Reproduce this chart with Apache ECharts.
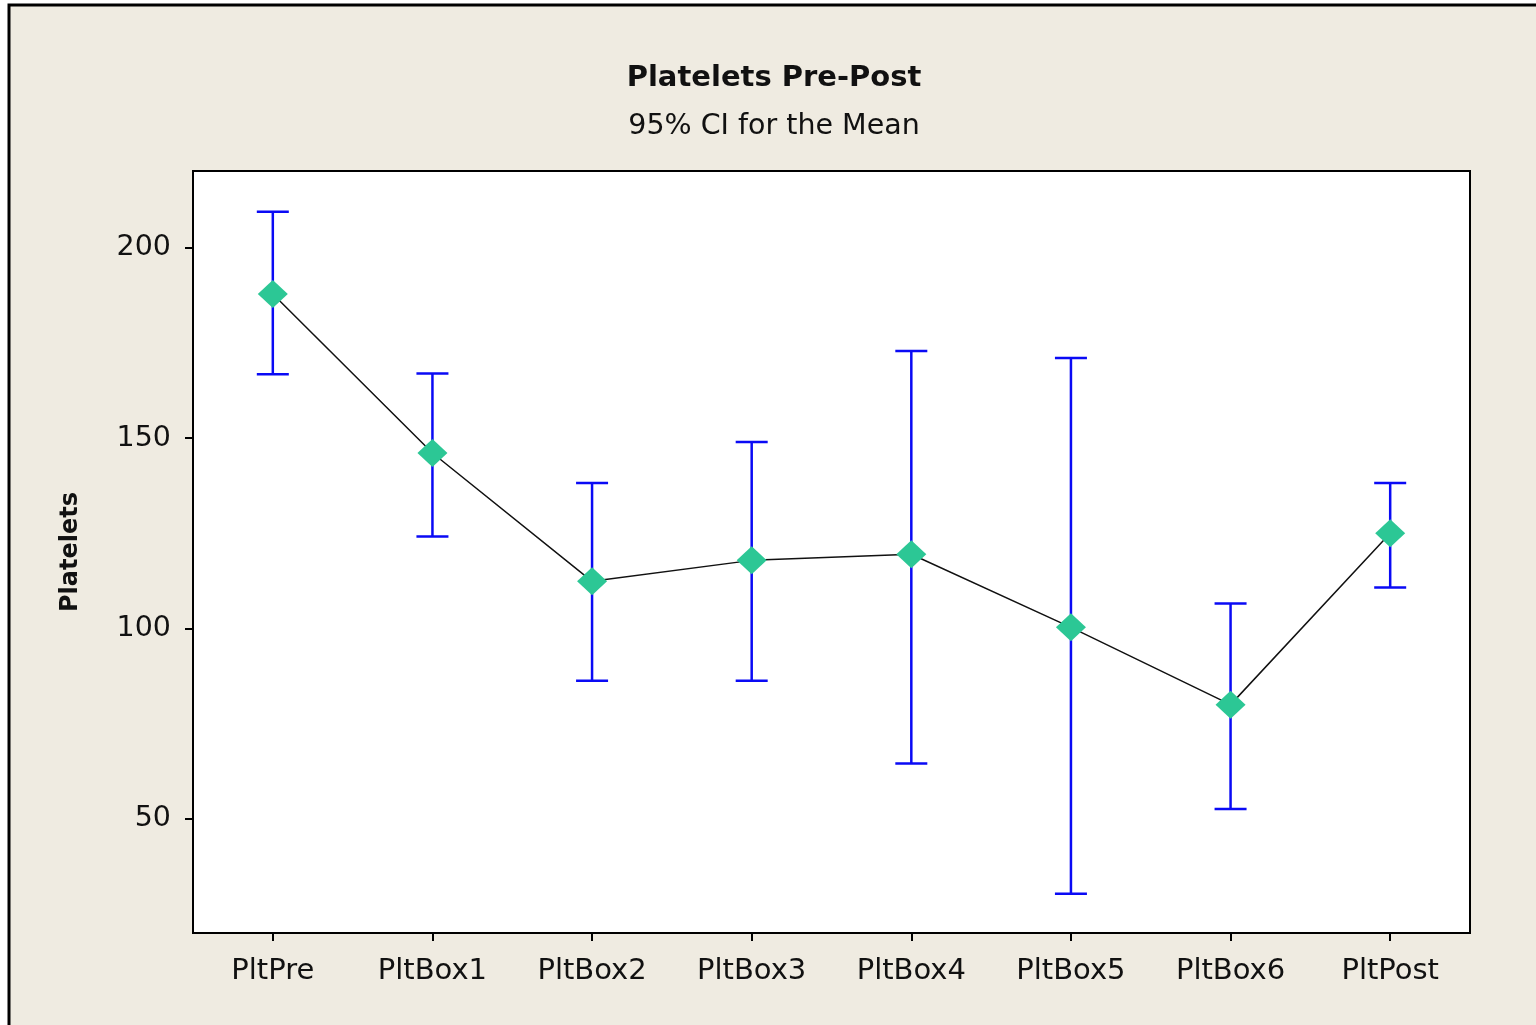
<!DOCTYPE html>
<html>
<head>
<meta charset="utf-8">
<script src="https://cdn.jsdelivr.net/npm/echarts@6/dist/echarts.min.js"></script>
<style>
  html, body { margin: 0; padding: 0; background: #ffffff; }
  #chart { width: 1536px; height: 1025px; }
</style>
</head>
<body>
<div id="chart"></div>
<script>
// Platelet counts by sample point: mean with 95% confidence interval
const categories = ['PltPre', 'PltBox1', 'PltBox2', 'PltBox3', 'PltBox4', 'PltBox5', 'PltBox6', 'PltPost'];
const means = [187.9, 146.1, 112.4, 117.9, 119.5, 100.3, 80.0, 125.0];
const ciUpper = [209.5, 167.0, 138.2, 149.0, 172.9, 171.1, 106.6, 138.2];
const ciLower = [166.8, 124.2, 86.3, 86.3, 64.5, 30.3, 52.6, 110.8];
const yTicks = [50, 100, 150, 200];

const intervalData = categories.map((c, i) => [i, ciLower[i], ciUpper[i]]);

const chart = echarts.init(document.getElementById('chart'), null, { renderer: 'canvas' });

const font = 'DejaVu Sans';
const CAP = 16;

chart.setOption({
  backgroundColor: '#ffffff',
  animation: false,
  graphic: [{
    type: 'rect',
    z: -10,
    silent: true,
    shape: { x: 9, y: 5, width: 1600, height: 1100 },
    style: { fill: '#efebe1', stroke: '#000000', lineWidth: 3 }
  }],
  title: {
    text: 'Platelets Pre-Post',
    subtext: '95% CI for the Mean',
    left: 769,
    textAlign: 'center',
    top: 59,
    itemGap: 19,
    textStyle: { fontFamily: font, fontWeight: 'bold', fontSize: 29, color: '#111111' },
    subtextStyle: { fontFamily: font, fontSize: 28.5, color: '#111111' }
  },
  grid: {
    left: 193, right: 66, top: 171, bottom: 92,
    show: true, backgroundColor: '#ffffff',
    borderColor: '#000000', borderWidth: 2
  },
  xAxis: {
    type: 'category',
    data: categories,
    boundaryGap: true,
    axisLine: { show: true, lineStyle: { color: '#000000', width: 2 } },
    axisTick: { show: true, alignWithLabel: true, length: 8, lineStyle: { color: '#000000', width: 2 } },
    axisLabel: { fontFamily: font, fontSize: 29, color: '#111111', margin: 24 },
    splitLine: { show: false }
  },
  yAxis: {
    type: 'value',
    min: 20,
    max: 220.2,
    name: 'Platelets',
    nameLocation: 'middle',
    nameGap: 110,
    nameTextStyle: { fontFamily: font, fontWeight: 'bold', fontSize: 24, color: '#111111' },
    axisLine: { show: true, lineStyle: { color: '#000000', width: 2 } },
    axisTick: { show: true, length: 8, customValues: yTicks, lineStyle: { color: '#000000', width: 2 } },
    axisLabel: { fontFamily: font, fontSize: 28.5, color: '#111111', margin: 22, customValues: yTicks },
    splitLine: { show: false }
  },
  series: [
    {
      type: 'custom',
      name: 'CI',
      z: 1,
      data: intervalData,
      encode: { x: 0, y: [1, 2] },
      renderItem: function (params, api) {
        const x = api.value(0);
        const lo = api.coord([x, api.value(1)]);
        const hi = api.coord([x, api.value(2)]);
        const style = { stroke: '#0a0af5', lineWidth: 2.5 };
        return {
          type: 'group',
          children: [
            { type: 'line', shape: { x1: lo[0], y1: lo[1], x2: hi[0], y2: hi[1] }, style: style },
            { type: 'line', shape: { x1: hi[0] - CAP, y1: hi[1], x2: hi[0] + CAP, y2: hi[1] }, style: style },
            { type: 'line', shape: { x1: lo[0] - CAP, y1: lo[1], x2: lo[0] + CAP, y2: lo[1] }, style: style }
          ]
        };
      }
    },
    {
      type: 'line',
      name: 'Mean',
      z: 3,
      data: means,
      symbol: 'diamond',
      symbolSize: [30, 28],
      showAllSymbol: true,
      lineStyle: { color: '#111111', width: 1.5 },
      itemStyle: { color: '#2cc795', borderWidth: 0 }
    }
  ]
});
</script>
</body>
</html>
